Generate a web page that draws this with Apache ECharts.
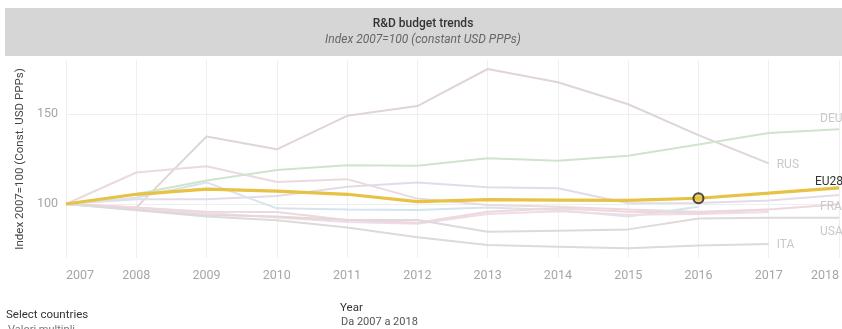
<!DOCTYPE html>
<html>
<head>
<meta charset="utf-8">
<script src="https://cdn.jsdelivr.net/npm/echarts@6/dist/echarts.min.js"></script>
<style>
  html, body { margin: 0; padding: 0; background: #fff; }
  #chart { width: 842px; height: 329px; }
</style>
</head>
<body>
<div id="chart"></div>
<script>
// Years on the x axis
const years = ['2007','2008','2009','2010','2011','2012','2013','2014','2015','2016','2017','2018'];

// R&D budget index, 2007 = 100 (constant USD PPPs)
const EU28 = [100, 105.4, 108.3, 107.2, 105.4, 101.3, 102.4, 102.2, 102.0, 103.2, 106.0, 109.0];
const DEU  = [100, 105.5, 113.0, 118.9, 121.5, 121.3, 125.4, 124.0, 126.8, 133.1, 139.5, 141.5];
const RUS  = [100, 98.0, 137.5, 130.4, 149.0, 154.4, 175.0, 167.6, 155.4, 138.3, 122.6];
const KOR  = [100, 117.5, 121.0, 112.2, 113.8, 103.0, 99.5, 98.5, 97.0, 95.7, 97.0];
const JPN  = [100, 102.6, 102.6, 104.4, 109.6, 111.9, 109.3, 108.7, 100.4, 100.5, 101.9, 105.0];
const GBR  = [100, 103.5, 112.0, 97.6, 97.0, 96.7, 98.1, 96.7, 93.0, 98.5];
const FRA  = [100, 98.1, 95.7, 95.5, 91.1, 89.6, 95.7, 97.6, 95.7, 95.0, 97.0, 99.8];
const USA  = [100, 97.0, 93.9, 93.0, 91.1, 91.1, 84.6, 85.2, 85.9, 92.0, 92.4, 92.4];
const CAN  = [100, 98.1, 95.0, 92.5, 90.0, 89.0, 94.5, 96.0, 94.0, 94.5, 95.5];
const ITA  = [100, 96.5, 93.0, 91.0, 87.0, 81.5, 77.2, 76.3, 75.4, 76.9, 77.8];

// Highlighted year on the EU28 line
const highlightYear = '2016';

const FONT = 'Roboto, "Noto Sans", sans-serif';

function faint(name, data, color, label, offset) {
  return {
    name: name,
    type: 'line',
    data: data,
    symbol: 'none',
    smooth: false,
    lineStyle: { color: color, width: 2 },
    z: 2,
    endLabel: label ? {
      show: true,
      formatter: label,
      color: '#c9c9c9',
      fontFamily: FONT,
      fontSize: 12,
      offset: offset || [0, 0]
    } : { show: false }
  };
}

const chart = echarts.init(document.getElementById('chart'), null, { renderer: 'canvas' });

chart.setOption({
  animation: false,
  grid: { left: 66, right: 0, top: 60, bottom: 71, containLabel: false },
  xAxis: {
    type: 'category',
    data: years,
    boundaryGap: false,
    axisLine: { show: false },
    axisTick: { show: false },
    splitLine: { show: true, lineStyle: { color: '#efefef', width: 1 } },
    axisLabel: {
      color: '#a6a6a6',
      fontFamily: FONT,
      fontSize: 12.5,
      margin: 11,
      alignMinLabel: 'left',
      alignMaxLabel: 'right'
    }
  },
  yAxis: {
    type: 'value',
    min: 70,
    max: 180,
    interval: 10,
    axisLine: { show: false },
    axisTick: { show: false },
    splitLine: {
      show: true,
      lineStyle: { color: ['rgba(0,0,0,0)', 'rgba(0,0,0,0)', 'rgba(0,0,0,0)', '#efefef', 'rgba(0,0,0,0)'], width: 1 }
    },
    axisLabel: {
      color: '#a6a6a6',
      fontFamily: FONT,
      fontSize: 12.5,
      margin: 8,
      formatter: v => (v === 100 || v === 150) ? String(v) : ''
    },
    name: 'Index 2007=100 (Const. USD PPPs)',
    nameLocation: 'middle',
    nameGap: 36,
    nameTextStyle: { color: '#444', fontFamily: FONT, fontSize: 11.5 }
  },
  series: [
    faint('RUS', RUS, '#e0d5d5', 'RUS', [0, 2]),
    faint('KOR', KOR, '#eadade'),
    faint('JPN', JPN, '#e4dbe8'),
    faint('GBR', GBR, '#d6e4ec'),
    faint('CAN', CAN, '#f0dce3'),
    faint('FRA', FRA, '#eed7de', 'FRA', [-27, 3]),
    faint('USA', USA, '#dfd9d9', 'USA', [-27, 14]),
    faint('ITA', ITA, '#dfd9d9', 'ITA', [0, 1]),
    faint('DEU', DEU, '#d0e4cd', 'DEU', [-27, -10]),
    {
      name: 'EU28',
      type: 'line',
      data: EU28,
      symbol: 'none',
      lineStyle: { color: '#e7c244', width: 3.2 },
      z: 5,
      endLabel: {
        show: true,
        formatter: 'EU28',
        color: '#333',
        fontFamily: FONT,
        fontSize: 12,
        offset: [-32, -6]
      }
    },
    {
      name: 'EU28 highlight',
      type: 'scatter',
      data: [[highlightYear, EU28[years.indexOf(highlightYear)]]],
      symbol: 'circle',
      symbolSize: 10,
      itemStyle: { color: '#e7c244', borderColor: '#222', borderWidth: 2 },
      z: 6
    }
  ],
  graphic: [
    { type: 'rect', shape: { x: 5, y: 8, width: 840, height: 48 }, style: { fill: '#d6d6d6' }, z: 0 },
    { type: 'text', x: 423, y: 24, style: { text: 'R&D budget trends', fill: '#333', font: '500 12px ' + FONT, align: 'center', verticalAlign: 'middle' } },
    { type: 'text', x: 423, y: 40, style: { text: 'Index 2007=100 (constant USD PPPs)', fill: '#666', font: 'italic 12px ' + FONT, align: 'center', verticalAlign: 'middle' } },
    { type: 'text', x: 6, y: 315, style: { text: 'Select countries', fill: '#333', font: '11.5px ' + FONT, verticalAlign: 'middle' } },
    { type: 'text', x: 8, y: 330, style: { text: 'Valori multipli', fill: '#777', font: '11px ' + FONT, verticalAlign: 'middle' } },
    { type: 'text', x: 340, y: 308, style: { text: 'Year', fill: '#333', font: '11.5px ' + FONT, verticalAlign: 'middle' } },
    { type: 'text', x: 341, y: 322, style: { text: 'Da 2007 a 2018', fill: '#555', font: '11px ' + FONT, verticalAlign: 'middle' } }
  ]
});
</script>
</body>
</html>
